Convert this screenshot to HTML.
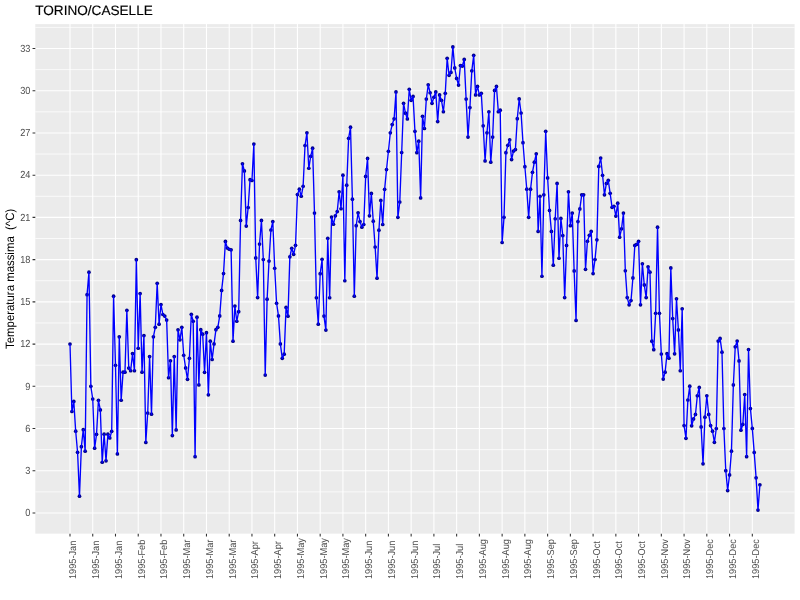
<!DOCTYPE html><html><head><meta charset="utf-8"><style>html,body{margin:0;padding:0;background:#fff}svg{display:block}text{font-family:"Liberation Sans",Arial,sans-serif;text-rendering:geometricPrecision}</style></head><body>
<svg width="800" height="600" viewBox="0 0 800 600">
<rect width="800" height="600" fill="#fff"/>
<rect x="35.3" y="24.1" width="759.3000000000001" height="509.54999999999995" fill="#EBEBEB"/>
<path d="M35.3 491.89H794.6M35.3 449.66H794.6M35.3 407.43H794.6M35.3 365.20H794.6M35.3 322.97H794.6M35.3 280.75H794.6M35.3 238.52H794.6M35.3 196.29H794.6M35.3 154.06H794.6M35.3 111.83H794.6M35.3 69.61H794.6M35.3 27.38H794.6" stroke="#fff" stroke-width="0.75" fill="none"/>
<path d="M35.3 513.00H794.6M35.3 470.77H794.6M35.3 428.54H794.6M35.3 386.32H794.6M35.3 344.09H794.6M35.3 301.86H794.6M35.3 259.63H794.6M35.3 217.40H794.6M35.3 175.18H794.6M35.3 132.95H794.6M35.3 90.72H794.6M35.3 48.49H794.6M70.00 24.1V533.65M92.74 24.1V533.65M115.49 24.1V533.65M138.23 24.1V533.65M160.97 24.1V533.65M183.72 24.1V533.65M206.46 24.1V533.65M229.21 24.1V533.65M251.95 24.1V533.65M274.69 24.1V533.65M297.44 24.1V533.65M320.18 24.1V533.65M342.92 24.1V533.65M365.67 24.1V533.65M388.41 24.1V533.65M411.15 24.1V533.65M433.90 24.1V533.65M456.64 24.1V533.65M479.38 24.1V533.65M502.13 24.1V533.65M524.87 24.1V533.65M547.62 24.1V533.65M570.36 24.1V533.65M593.10 24.1V533.65M615.85 24.1V533.65M638.59 24.1V533.65M661.33 24.1V533.65M684.08 24.1V533.65M706.82 24.1V533.65M729.56 24.1V533.65M752.31 24.1V533.65" stroke="#fff" stroke-width="1.07" fill="none"/>
<g fill="#00008B"><circle cx="70.00" cy="344.02" r="1.85"/><circle cx="71.90" cy="411.51" r="1.85"/><circle cx="73.79" cy="401.39" r="1.85"/><circle cx="75.69" cy="431.19" r="1.85"/><circle cx="77.58" cy="452.28" r="1.85"/><circle cx="79.48" cy="496.15" r="1.85"/><circle cx="81.37" cy="446.66" r="1.85"/><circle cx="83.27" cy="429.65" r="1.85"/><circle cx="85.16" cy="451.16" r="1.85"/><circle cx="87.06" cy="294.67" r="1.85"/><circle cx="88.95" cy="272.17" r="1.85"/><circle cx="90.85" cy="386.34" r="1.85"/><circle cx="92.74" cy="399.00" r="1.85"/><circle cx="94.64" cy="448.21" r="1.85"/><circle cx="96.53" cy="434.29" r="1.85"/><circle cx="98.43" cy="400.26" r="1.85"/><circle cx="100.32" cy="409.96" r="1.85"/><circle cx="102.22" cy="462.27" r="1.85"/><circle cx="104.12" cy="434.15" r="1.85"/><circle cx="106.01" cy="460.86" r="1.85"/><circle cx="107.91" cy="434.15" r="1.85"/><circle cx="109.80" cy="437.94" r="1.85"/><circle cx="111.70" cy="431.33" r="1.85"/><circle cx="113.59" cy="296.22" r="1.85"/><circle cx="115.49" cy="365.25" r="1.85"/><circle cx="117.38" cy="453.97" r="1.85"/><circle cx="119.28" cy="336.85" r="1.85"/><circle cx="121.17" cy="400.26" r="1.85"/><circle cx="123.07" cy="372.14" r="1.85"/><circle cx="124.96" cy="372.14" r="1.85"/><circle cx="126.86" cy="310.28" r="1.85"/><circle cx="128.75" cy="368.06" r="1.85"/><circle cx="130.65" cy="370.73" r="1.85"/><circle cx="132.54" cy="353.58" r="1.85"/><circle cx="134.44" cy="370.73" r="1.85"/><circle cx="136.34" cy="259.66" r="1.85"/><circle cx="138.23" cy="348.24" r="1.85"/><circle cx="140.13" cy="293.55" r="1.85"/><circle cx="142.02" cy="372.14" r="1.85"/><circle cx="143.92" cy="335.58" r="1.85"/><circle cx="145.81" cy="442.44" r="1.85"/><circle cx="147.71" cy="413.06" r="1.85"/><circle cx="149.60" cy="356.53" r="1.85"/><circle cx="151.50" cy="414.18" r="1.85"/><circle cx="153.39" cy="336.85" r="1.85"/><circle cx="155.29" cy="327.29" r="1.85"/><circle cx="157.18" cy="283.28" r="1.85"/><circle cx="159.08" cy="324.20" r="1.85"/><circle cx="160.97" cy="304.51" r="1.85"/><circle cx="162.87" cy="314.49" r="1.85"/><circle cx="164.76" cy="316.04" r="1.85"/><circle cx="166.66" cy="320.12" r="1.85"/><circle cx="168.56" cy="377.76" r="1.85"/><circle cx="170.45" cy="360.75" r="1.85"/><circle cx="172.35" cy="435.55" r="1.85"/><circle cx="174.24" cy="356.53" r="1.85"/><circle cx="176.14" cy="429.93" r="1.85"/><circle cx="178.03" cy="329.82" r="1.85"/><circle cx="179.93" cy="339.80" r="1.85"/><circle cx="181.82" cy="327.29" r="1.85"/><circle cx="183.72" cy="355.27" r="1.85"/><circle cx="185.61" cy="367.92" r="1.85"/><circle cx="187.51" cy="379.31" r="1.85"/><circle cx="189.40" cy="358.36" r="1.85"/><circle cx="191.30" cy="314.35" r="1.85"/><circle cx="193.19" cy="321.24" r="1.85"/><circle cx="195.09" cy="456.64" r="1.85"/><circle cx="196.99" cy="317.17" r="1.85"/><circle cx="198.88" cy="384.94" r="1.85"/><circle cx="200.78" cy="329.68" r="1.85"/><circle cx="202.67" cy="334.18" r="1.85"/><circle cx="204.57" cy="372.28" r="1.85"/><circle cx="206.46" cy="332.63" r="1.85"/><circle cx="208.36" cy="394.78" r="1.85"/><circle cx="210.25" cy="341.21" r="1.85"/><circle cx="212.15" cy="359.49" r="1.85"/><circle cx="214.04" cy="343.88" r="1.85"/><circle cx="215.94" cy="329.68" r="1.85"/><circle cx="217.83" cy="327.29" r="1.85"/><circle cx="219.73" cy="315.90" r="1.85"/><circle cx="221.62" cy="290.45" r="1.85"/><circle cx="223.52" cy="273.58" r="1.85"/><circle cx="225.41" cy="241.38" r="1.85"/><circle cx="227.31" cy="247.99" r="1.85"/><circle cx="229.21" cy="249.26" r="1.85"/><circle cx="231.10" cy="249.82" r="1.85"/><circle cx="233.00" cy="341.21" r="1.85"/><circle cx="234.89" cy="306.06" r="1.85"/><circle cx="236.79" cy="321.24" r="1.85"/><circle cx="238.68" cy="311.68" r="1.85"/><circle cx="240.58" cy="220.43" r="1.85"/><circle cx="242.47" cy="163.77" r="1.85"/><circle cx="244.37" cy="170.94" r="1.85"/><circle cx="246.26" cy="226.06" r="1.85"/><circle cx="248.16" cy="207.50" r="1.85"/><circle cx="250.05" cy="179.66" r="1.85"/><circle cx="251.95" cy="180.50" r="1.85"/><circle cx="253.84" cy="144.09" r="1.85"/><circle cx="255.74" cy="257.97" r="1.85"/><circle cx="257.63" cy="297.62" r="1.85"/><circle cx="259.53" cy="244.05" r="1.85"/><circle cx="261.43" cy="220.43" r="1.85"/><circle cx="263.32" cy="259.52" r="1.85"/><circle cx="265.22" cy="375.09" r="1.85"/><circle cx="267.11" cy="299.17" r="1.85"/><circle cx="269.01" cy="261.07" r="1.85"/><circle cx="270.90" cy="229.99" r="1.85"/><circle cx="272.80" cy="221.56" r="1.85"/><circle cx="274.69" cy="268.24" r="1.85"/><circle cx="276.59" cy="303.25" r="1.85"/><circle cx="278.48" cy="315.90" r="1.85"/><circle cx="280.38" cy="343.88" r="1.85"/><circle cx="282.27" cy="358.36" r="1.85"/><circle cx="284.17" cy="354.14" r="1.85"/><circle cx="286.06" cy="307.46" r="1.85"/><circle cx="287.96" cy="316.18" r="1.85"/><circle cx="289.85" cy="256.85" r="1.85"/><circle cx="291.75" cy="248.27" r="1.85"/><circle cx="293.65" cy="254.32" r="1.85"/><circle cx="295.54" cy="245.32" r="1.85"/><circle cx="297.44" cy="194.56" r="1.85"/><circle cx="299.33" cy="189.22" r="1.85"/><circle cx="301.23" cy="196.25" r="1.85"/><circle cx="303.12" cy="186.27" r="1.85"/><circle cx="305.02" cy="145.49" r="1.85"/><circle cx="306.91" cy="132.84" r="1.85"/><circle cx="308.81" cy="168.27" r="1.85"/><circle cx="310.70" cy="156.32" r="1.85"/><circle cx="312.60" cy="148.16" r="1.85"/><circle cx="314.49" cy="213.12" r="1.85"/><circle cx="316.39" cy="297.76" r="1.85"/><circle cx="318.28" cy="324.20" r="1.85"/><circle cx="320.18" cy="273.72" r="1.85"/><circle cx="322.07" cy="259.24" r="1.85"/><circle cx="323.97" cy="316.04" r="1.85"/><circle cx="325.87" cy="330.10" r="1.85"/><circle cx="327.76" cy="238.29" r="1.85"/><circle cx="329.66" cy="297.76" r="1.85"/><circle cx="331.55" cy="217.06" r="1.85"/><circle cx="333.45" cy="224.23" r="1.85"/><circle cx="335.34" cy="215.79" r="1.85"/><circle cx="337.24" cy="211.58" r="1.85"/><circle cx="339.13" cy="191.75" r="1.85"/><circle cx="341.03" cy="208.76" r="1.85"/><circle cx="342.92" cy="175.16" r="1.85"/><circle cx="344.82" cy="280.75" r="1.85"/><circle cx="346.71" cy="185.14" r="1.85"/><circle cx="348.61" cy="138.32" r="1.85"/><circle cx="350.50" cy="127.22" r="1.85"/><circle cx="352.40" cy="199.20" r="1.85"/><circle cx="354.30" cy="296.22" r="1.85"/><circle cx="356.19" cy="225.64" r="1.85"/><circle cx="358.09" cy="212.84" r="1.85"/><circle cx="359.98" cy="221.56" r="1.85"/><circle cx="361.88" cy="227.18" r="1.85"/><circle cx="363.77" cy="224.51" r="1.85"/><circle cx="365.67" cy="176.43" r="1.85"/><circle cx="367.56" cy="158.43" r="1.85"/><circle cx="369.46" cy="215.79" r="1.85"/><circle cx="371.35" cy="193.44" r="1.85"/><circle cx="373.25" cy="221.14" r="1.85"/><circle cx="375.14" cy="247.01" r="1.85"/><circle cx="377.04" cy="278.22" r="1.85"/><circle cx="378.93" cy="230.13" r="1.85"/><circle cx="380.83" cy="200.47" r="1.85"/><circle cx="382.72" cy="224.51" r="1.85"/><circle cx="384.62" cy="189.36" r="1.85"/><circle cx="386.52" cy="169.54" r="1.85"/><circle cx="388.41" cy="151.26" r="1.85"/><circle cx="390.31" cy="132.84" r="1.85"/><circle cx="392.20" cy="124.54" r="1.85"/><circle cx="394.10" cy="118.78" r="1.85"/><circle cx="395.99" cy="91.92" r="1.85"/><circle cx="397.89" cy="217.34" r="1.85"/><circle cx="399.78" cy="202.01" r="1.85"/><circle cx="401.68" cy="152.52" r="1.85"/><circle cx="403.57" cy="103.31" r="1.85"/><circle cx="405.47" cy="113.16" r="1.85"/><circle cx="407.36" cy="118.92" r="1.85"/><circle cx="409.26" cy="89.25" r="1.85"/><circle cx="411.15" cy="100.36" r="1.85"/><circle cx="413.05" cy="96.42" r="1.85"/><circle cx="414.94" cy="131.29" r="1.85"/><circle cx="416.84" cy="152.66" r="1.85"/><circle cx="418.74" cy="141.13" r="1.85"/><circle cx="420.63" cy="197.94" r="1.85"/><circle cx="422.53" cy="116.25" r="1.85"/><circle cx="424.42" cy="128.48" r="1.85"/><circle cx="426.32" cy="99.10" r="1.85"/><circle cx="428.21" cy="84.75" r="1.85"/><circle cx="430.11" cy="92.77" r="1.85"/><circle cx="432.00" cy="103.31" r="1.85"/><circle cx="433.90" cy="97.27" r="1.85"/><circle cx="435.79" cy="91.92" r="1.85"/><circle cx="437.69" cy="121.59" r="1.85"/><circle cx="439.58" cy="94.88" r="1.85"/><circle cx="441.48" cy="100.36" r="1.85"/><circle cx="443.37" cy="111.75" r="1.85"/><circle cx="445.27" cy="93.33" r="1.85"/><circle cx="447.16" cy="58.32" r="1.85"/><circle cx="449.06" cy="75.33" r="1.85"/><circle cx="450.96" cy="72.38" r="1.85"/><circle cx="452.85" cy="46.93" r="1.85"/><circle cx="454.75" cy="67.88" r="1.85"/><circle cx="456.64" cy="78.43" r="1.85"/><circle cx="458.54" cy="85.04" r="1.85"/><circle cx="460.43" cy="65.49" r="1.85"/><circle cx="462.33" cy="66.05" r="1.85"/><circle cx="464.22" cy="59.45" r="1.85"/><circle cx="466.12" cy="99.10" r="1.85"/><circle cx="468.01" cy="137.06" r="1.85"/><circle cx="469.91" cy="107.53" r="1.85"/><circle cx="471.80" cy="70.83" r="1.85"/><circle cx="473.70" cy="55.37" r="1.85"/><circle cx="475.59" cy="94.88" r="1.85"/><circle cx="477.49" cy="86.44" r="1.85"/><circle cx="479.38" cy="94.88" r="1.85"/><circle cx="481.28" cy="93.33" r="1.85"/><circle cx="483.18" cy="125.81" r="1.85"/><circle cx="485.07" cy="160.96" r="1.85"/><circle cx="486.97" cy="132.84" r="1.85"/><circle cx="488.86" cy="111.75" r="1.85"/><circle cx="490.76" cy="162.22" r="1.85"/><circle cx="492.65" cy="137.06" r="1.85"/><circle cx="494.55" cy="90.38" r="1.85"/><circle cx="496.44" cy="86.44" r="1.85"/><circle cx="498.34" cy="111.75" r="1.85"/><circle cx="500.23" cy="110.20" r="1.85"/><circle cx="502.13" cy="242.51" r="1.85"/><circle cx="504.02" cy="217.34" r="1.85"/><circle cx="505.92" cy="152.66" r="1.85"/><circle cx="507.81" cy="145.35" r="1.85"/><circle cx="509.71" cy="139.73" r="1.85"/><circle cx="511.60" cy="159.55" r="1.85"/><circle cx="513.50" cy="151.12" r="1.85"/><circle cx="515.40" cy="149.57" r="1.85"/><circle cx="517.29" cy="118.64" r="1.85"/><circle cx="519.19" cy="98.95" r="1.85"/><circle cx="521.08" cy="113.01" r="1.85"/><circle cx="522.98" cy="142.68" r="1.85"/><circle cx="524.87" cy="166.72" r="1.85"/><circle cx="526.77" cy="189.22" r="1.85"/><circle cx="528.66" cy="217.34" r="1.85"/><circle cx="530.56" cy="189.22" r="1.85"/><circle cx="532.45" cy="172.35" r="1.85"/><circle cx="534.35" cy="162.22" r="1.85"/><circle cx="536.24" cy="153.79" r="1.85"/><circle cx="538.14" cy="231.40" r="1.85"/><circle cx="540.03" cy="196.25" r="1.85"/><circle cx="541.93" cy="276.25" r="1.85"/><circle cx="543.83" cy="194.84" r="1.85"/><circle cx="545.72" cy="131.29" r="1.85"/><circle cx="547.62" cy="177.97" r="1.85"/><circle cx="549.51" cy="210.45" r="1.85"/><circle cx="551.41" cy="231.40" r="1.85"/><circle cx="553.30" cy="265.14" r="1.85"/><circle cx="555.20" cy="218.75" r="1.85"/><circle cx="557.09" cy="183.46" r="1.85"/><circle cx="558.99" cy="258.25" r="1.85"/><circle cx="560.88" cy="218.46" r="1.85"/><circle cx="562.78" cy="235.62" r="1.85"/><circle cx="564.67" cy="297.62" r="1.85"/><circle cx="566.57" cy="245.46" r="1.85"/><circle cx="568.46" cy="191.75" r="1.85"/><circle cx="570.36" cy="225.64" r="1.85"/><circle cx="572.25" cy="213.12" r="1.85"/><circle cx="574.15" cy="270.91" r="1.85"/><circle cx="576.05" cy="320.40" r="1.85"/><circle cx="577.94" cy="221.56" r="1.85"/><circle cx="579.84" cy="208.90" r="1.85"/><circle cx="581.73" cy="194.84" r="1.85"/><circle cx="583.63" cy="194.84" r="1.85"/><circle cx="585.52" cy="269.36" r="1.85"/><circle cx="587.42" cy="241.24" r="1.85"/><circle cx="589.31" cy="235.34" r="1.85"/><circle cx="591.21" cy="231.40" r="1.85"/><circle cx="593.10" cy="273.58" r="1.85"/><circle cx="595.00" cy="259.52" r="1.85"/><circle cx="596.89" cy="239.84" r="1.85"/><circle cx="598.79" cy="166.44" r="1.85"/><circle cx="600.68" cy="158.01" r="1.85"/><circle cx="602.58" cy="175.30" r="1.85"/><circle cx="604.47" cy="194.84" r="1.85"/><circle cx="606.37" cy="183.46" r="1.85"/><circle cx="608.27" cy="180.36" r="1.85"/><circle cx="610.16" cy="193.30" r="1.85"/><circle cx="612.06" cy="207.36" r="1.85"/><circle cx="613.95" cy="206.23" r="1.85"/><circle cx="615.85" cy="216.07" r="1.85"/><circle cx="617.74" cy="203.14" r="1.85"/><circle cx="619.64" cy="237.16" r="1.85"/><circle cx="621.53" cy="228.73" r="1.85"/><circle cx="623.43" cy="213.12" r="1.85"/><circle cx="625.32" cy="270.77" r="1.85"/><circle cx="627.22" cy="297.62" r="1.85"/><circle cx="629.11" cy="304.79" r="1.85"/><circle cx="631.01" cy="300.58" r="1.85"/><circle cx="632.90" cy="277.94" r="1.85"/><circle cx="634.80" cy="245.46" r="1.85"/><circle cx="636.69" cy="244.34" r="1.85"/><circle cx="638.59" cy="241.24" r="1.85"/><circle cx="640.49" cy="304.79" r="1.85"/><circle cx="642.38" cy="263.74" r="1.85"/><circle cx="644.28" cy="284.97" r="1.85"/><circle cx="646.17" cy="297.62" r="1.85"/><circle cx="648.07" cy="266.83" r="1.85"/><circle cx="649.96" cy="272.17" r="1.85"/><circle cx="651.86" cy="341.21" r="1.85"/><circle cx="653.75" cy="349.64" r="1.85"/><circle cx="655.65" cy="313.23" r="1.85"/><circle cx="657.54" cy="227.18" r="1.85"/><circle cx="659.44" cy="313.23" r="1.85"/><circle cx="661.33" cy="354.00" r="1.85"/><circle cx="663.23" cy="379.03" r="1.85"/><circle cx="665.12" cy="372.14" r="1.85"/><circle cx="667.02" cy="353.72" r="1.85"/><circle cx="668.91" cy="358.22" r="1.85"/><circle cx="670.81" cy="267.96" r="1.85"/><circle cx="672.71" cy="318.57" r="1.85"/><circle cx="674.60" cy="353.86" r="1.85"/><circle cx="676.50" cy="298.75" r="1.85"/><circle cx="678.39" cy="329.96" r="1.85"/><circle cx="680.29" cy="370.73" r="1.85"/><circle cx="682.18" cy="308.73" r="1.85"/><circle cx="684.08" cy="425.57" r="1.85"/><circle cx="685.97" cy="438.36" r="1.85"/><circle cx="687.87" cy="399.98" r="1.85"/><circle cx="689.76" cy="386.20" r="1.85"/><circle cx="691.66" cy="425.85" r="1.85"/><circle cx="693.55" cy="418.96" r="1.85"/><circle cx="695.45" cy="414.46" r="1.85"/><circle cx="697.34" cy="395.76" r="1.85"/><circle cx="699.24" cy="387.47" r="1.85"/><circle cx="701.13" cy="426.97" r="1.85"/><circle cx="703.03" cy="463.81" r="1.85"/><circle cx="704.93" cy="417.13" r="1.85"/><circle cx="706.82" cy="395.76" r="1.85"/><circle cx="708.72" cy="414.46" r="1.85"/><circle cx="710.61" cy="425.57" r="1.85"/><circle cx="712.51" cy="431.19" r="1.85"/><circle cx="714.40" cy="442.30" r="1.85"/><circle cx="716.30" cy="428.52" r="1.85"/><circle cx="718.19" cy="341.07" r="1.85"/><circle cx="720.09" cy="338.40" r="1.85"/><circle cx="721.98" cy="352.18" r="1.85"/><circle cx="723.88" cy="428.52" r="1.85"/><circle cx="725.77" cy="470.70" r="1.85"/><circle cx="727.67" cy="490.53" r="1.85"/><circle cx="729.56" cy="474.92" r="1.85"/><circle cx="731.46" cy="451.16" r="1.85"/><circle cx="733.36" cy="384.94" r="1.85"/><circle cx="735.25" cy="346.83" r="1.85"/><circle cx="737.15" cy="341.07" r="1.85"/><circle cx="739.04" cy="360.89" r="1.85"/><circle cx="740.94" cy="430.21" r="1.85"/><circle cx="742.83" cy="424.44" r="1.85"/><circle cx="744.73" cy="394.50" r="1.85"/><circle cx="746.62" cy="456.64" r="1.85"/><circle cx="748.52" cy="349.50" r="1.85"/><circle cx="750.41" cy="408.56" r="1.85"/><circle cx="752.31" cy="428.38" r="1.85"/><circle cx="754.20" cy="452.42" r="1.85"/><circle cx="756.10" cy="477.87" r="1.85"/><circle cx="757.99" cy="510.07" r="1.85"/><circle cx="759.89" cy="484.76" r="1.85"/></g>
<polyline points="70.00,344.02 71.90,411.51 73.79,401.39 75.69,431.19 77.58,452.28 79.48,496.15 81.37,446.66 83.27,429.65 85.16,451.16 87.06,294.67 88.95,272.17 90.85,386.34 92.74,399.00 94.64,448.21 96.53,434.29 98.43,400.26 100.32,409.96 102.22,462.27 104.12,434.15 106.01,460.86 107.91,434.15 109.80,437.94 111.70,431.33 113.59,296.22 115.49,365.25 117.38,453.97 119.28,336.85 121.17,400.26 123.07,372.14 124.96,372.14 126.86,310.28 128.75,368.06 130.65,370.73 132.54,353.58 134.44,370.73 136.34,259.66 138.23,348.24 140.13,293.55 142.02,372.14 143.92,335.58 145.81,442.44 147.71,413.06 149.60,356.53 151.50,414.18 153.39,336.85 155.29,327.29 157.18,283.28 159.08,324.20 160.97,304.51 162.87,314.49 164.76,316.04 166.66,320.12 168.56,377.76 170.45,360.75 172.35,435.55 174.24,356.53 176.14,429.93 178.03,329.82 179.93,339.80 181.82,327.29 183.72,355.27 185.61,367.92 187.51,379.31 189.40,358.36 191.30,314.35 193.19,321.24 195.09,456.64 196.99,317.17 198.88,384.94 200.78,329.68 202.67,334.18 204.57,372.28 206.46,332.63 208.36,394.78 210.25,341.21 212.15,359.49 214.04,343.88 215.94,329.68 217.83,327.29 219.73,315.90 221.62,290.45 223.52,273.58 225.41,241.38 227.31,247.99 229.21,249.26 231.10,249.82 233.00,341.21 234.89,306.06 236.79,321.24 238.68,311.68 240.58,220.43 242.47,163.77 244.37,170.94 246.26,226.06 248.16,207.50 250.05,179.66 251.95,180.50 253.84,144.09 255.74,257.97 257.63,297.62 259.53,244.05 261.43,220.43 263.32,259.52 265.22,375.09 267.11,299.17 269.01,261.07 270.90,229.99 272.80,221.56 274.69,268.24 276.59,303.25 278.48,315.90 280.38,343.88 282.27,358.36 284.17,354.14 286.06,307.46 287.96,316.18 289.85,256.85 291.75,248.27 293.65,254.32 295.54,245.32 297.44,194.56 299.33,189.22 301.23,196.25 303.12,186.27 305.02,145.49 306.91,132.84 308.81,168.27 310.70,156.32 312.60,148.16 314.49,213.12 316.39,297.76 318.28,324.20 320.18,273.72 322.07,259.24 323.97,316.04 325.87,330.10 327.76,238.29 329.66,297.76 331.55,217.06 333.45,224.23 335.34,215.79 337.24,211.58 339.13,191.75 341.03,208.76 342.92,175.16 344.82,280.75 346.71,185.14 348.61,138.32 350.50,127.22 352.40,199.20 354.30,296.22 356.19,225.64 358.09,212.84 359.98,221.56 361.88,227.18 363.77,224.51 365.67,176.43 367.56,158.43 369.46,215.79 371.35,193.44 373.25,221.14 375.14,247.01 377.04,278.22 378.93,230.13 380.83,200.47 382.72,224.51 384.62,189.36 386.52,169.54 388.41,151.26 390.31,132.84 392.20,124.54 394.10,118.78 395.99,91.92 397.89,217.34 399.78,202.01 401.68,152.52 403.57,103.31 405.47,113.16 407.36,118.92 409.26,89.25 411.15,100.36 413.05,96.42 414.94,131.29 416.84,152.66 418.74,141.13 420.63,197.94 422.53,116.25 424.42,128.48 426.32,99.10 428.21,84.75 430.11,92.77 432.00,103.31 433.90,97.27 435.79,91.92 437.69,121.59 439.58,94.88 441.48,100.36 443.37,111.75 445.27,93.33 447.16,58.32 449.06,75.33 450.96,72.38 452.85,46.93 454.75,67.88 456.64,78.43 458.54,85.04 460.43,65.49 462.33,66.05 464.22,59.45 466.12,99.10 468.01,137.06 469.91,107.53 471.80,70.83 473.70,55.37 475.59,94.88 477.49,86.44 479.38,94.88 481.28,93.33 483.18,125.81 485.07,160.96 486.97,132.84 488.86,111.75 490.76,162.22 492.65,137.06 494.55,90.38 496.44,86.44 498.34,111.75 500.23,110.20 502.13,242.51 504.02,217.34 505.92,152.66 507.81,145.35 509.71,139.73 511.60,159.55 513.50,151.12 515.40,149.57 517.29,118.64 519.19,98.95 521.08,113.01 522.98,142.68 524.87,166.72 526.77,189.22 528.66,217.34 530.56,189.22 532.45,172.35 534.35,162.22 536.24,153.79 538.14,231.40 540.03,196.25 541.93,276.25 543.83,194.84 545.72,131.29 547.62,177.97 549.51,210.45 551.41,231.40 553.30,265.14 555.20,218.75 557.09,183.46 558.99,258.25 560.88,218.46 562.78,235.62 564.67,297.62 566.57,245.46 568.46,191.75 570.36,225.64 572.25,213.12 574.15,270.91 576.05,320.40 577.94,221.56 579.84,208.90 581.73,194.84 583.63,194.84 585.52,269.36 587.42,241.24 589.31,235.34 591.21,231.40 593.10,273.58 595.00,259.52 596.89,239.84 598.79,166.44 600.68,158.01 602.58,175.30 604.47,194.84 606.37,183.46 608.27,180.36 610.16,193.30 612.06,207.36 613.95,206.23 615.85,216.07 617.74,203.14 619.64,237.16 621.53,228.73 623.43,213.12 625.32,270.77 627.22,297.62 629.11,304.79 631.01,300.58 632.90,277.94 634.80,245.46 636.69,244.34 638.59,241.24 640.49,304.79 642.38,263.74 644.28,284.97 646.17,297.62 648.07,266.83 649.96,272.17 651.86,341.21 653.75,349.64 655.65,313.23 657.54,227.18 659.44,313.23 661.33,354.00 663.23,379.03 665.12,372.14 667.02,353.72 668.91,358.22 670.81,267.96 672.71,318.57 674.60,353.86 676.50,298.75 678.39,329.96 680.29,370.73 682.18,308.73 684.08,425.57 685.97,438.36 687.87,399.98 689.76,386.20 691.66,425.85 693.55,418.96 695.45,414.46 697.34,395.76 699.24,387.47 701.13,426.97 703.03,463.81 704.93,417.13 706.82,395.76 708.72,414.46 710.61,425.57 712.51,431.19 714.40,442.30 716.30,428.52 718.19,341.07 720.09,338.40 721.98,352.18 723.88,428.52 725.77,470.70 727.67,490.53 729.56,474.92 731.46,451.16 733.36,384.94 735.25,346.83 737.15,341.07 739.04,360.89 740.94,430.21 742.83,424.44 744.73,394.50 746.62,456.64 748.52,349.50 750.41,408.56 752.31,428.38 754.20,452.42 756.10,477.87 757.99,510.07 759.89,484.76" fill="none" stroke="#0000FF" stroke-width="1.35" stroke-linejoin="round" stroke-linecap="butt"/>
<path d="M32.55 513.00H35.3M32.55 470.77H35.3M32.55 428.54H35.3M32.55 386.32H35.3M32.55 344.09H35.3M32.55 301.86H35.3M32.55 259.63H35.3M32.55 217.40H35.3M32.55 175.18H35.3M32.55 132.95H35.3M32.55 90.72H35.3M32.55 48.49H35.3M70.00 533.65V536.4M92.74 533.65V536.4M115.49 533.65V536.4M138.23 533.65V536.4M160.97 533.65V536.4M183.72 533.65V536.4M206.46 533.65V536.4M229.21 533.65V536.4M251.95 533.65V536.4M274.69 533.65V536.4M297.44 533.65V536.4M320.18 533.65V536.4M342.92 533.65V536.4M365.67 533.65V536.4M388.41 533.65V536.4M411.15 533.65V536.4M433.90 533.65V536.4M456.64 533.65V536.4M479.38 533.65V536.4M502.13 533.65V536.4M524.87 533.65V536.4M547.62 533.65V536.4M570.36 533.65V536.4M593.10 533.65V536.4M615.85 533.65V536.4M638.59 533.65V536.4M661.33 533.65V536.4M684.08 533.65V536.4M706.82 533.65V536.4M729.56 533.65V536.4M752.31 533.65V536.4" stroke="#333333" stroke-width="1.07" fill="none"/>
<g fill="#4D4D4D">
<text transform="translate(30.4,516.30) scale(1,1.12)" text-anchor="end" font-size="9.2">0</text>
<text transform="translate(30.4,474.07) scale(1,1.12)" text-anchor="end" font-size="9.2">3</text>
<text transform="translate(30.4,431.84) scale(1,1.12)" text-anchor="end" font-size="9.2">6</text>
<text transform="translate(30.4,389.62) scale(1,1.12)" text-anchor="end" font-size="9.2">9</text>
<text transform="translate(30.4,347.39) scale(1,1.12)" text-anchor="end" font-size="9.2">12</text>
<text transform="translate(30.4,305.16) scale(1,1.12)" text-anchor="end" font-size="9.2">15</text>
<text transform="translate(30.4,262.93) scale(1,1.12)" text-anchor="end" font-size="9.2">18</text>
<text transform="translate(30.4,220.70) scale(1,1.12)" text-anchor="end" font-size="9.2">21</text>
<text transform="translate(30.4,178.48) scale(1,1.12)" text-anchor="end" font-size="9.2">24</text>
<text transform="translate(30.4,136.25) scale(1,1.12)" text-anchor="end" font-size="9.2">27</text>
<text transform="translate(30.4,94.02) scale(1,1.12)" text-anchor="end" font-size="9.2">30</text>
<text transform="translate(30.4,51.79) scale(1,1.12)" text-anchor="end" font-size="9.2">33</text>
<text transform="translate(76.40,579.0) rotate(-90) scale(1,1.08)" font-size="9.2">1995-Jan</text>
<text transform="translate(99.14,579.0) rotate(-90) scale(1,1.08)" font-size="9.2">1995-Jan</text>
<text transform="translate(121.89,579.0) rotate(-90) scale(1,1.08)" font-size="9.2">1995-Jan</text>
<text transform="translate(144.63,579.0) rotate(-90) scale(1,1.08)" font-size="9.2">1995-Feb</text>
<text transform="translate(167.37,579.0) rotate(-90) scale(1,1.08)" font-size="9.2">1995-Feb</text>
<text transform="translate(190.12,579.0) rotate(-90) scale(1,1.08)" font-size="9.2">1995-Mar</text>
<text transform="translate(212.86,579.0) rotate(-90) scale(1,1.08)" font-size="9.2">1995-Mar</text>
<text transform="translate(235.61,579.0) rotate(-90) scale(1,1.08)" font-size="9.2">1995-Mar</text>
<text transform="translate(258.35,579.0) rotate(-90) scale(1,1.08)" font-size="9.2">1995-Apr</text>
<text transform="translate(281.09,579.0) rotate(-90) scale(1,1.08)" font-size="9.2">1995-Apr</text>
<text transform="translate(303.84,579.0) rotate(-90) scale(1,1.08)" font-size="9.2">1995-May</text>
<text transform="translate(326.58,579.0) rotate(-90) scale(1,1.08)" font-size="9.2">1995-May</text>
<text transform="translate(349.32,579.0) rotate(-90) scale(1,1.08)" font-size="9.2">1995-May</text>
<text transform="translate(372.07,579.0) rotate(-90) scale(1,1.08)" font-size="9.2">1995-Jun</text>
<text transform="translate(394.81,579.0) rotate(-90) scale(1,1.08)" font-size="9.2">1995-Jun</text>
<text transform="translate(417.55,579.0) rotate(-90) scale(1,1.08)" font-size="9.2">1995-Jun</text>
<text transform="translate(440.30,579.0) rotate(-90) scale(1,1.08)" font-size="9.2">1995-Jul</text>
<text transform="translate(463.04,579.0) rotate(-90) scale(1,1.08)" font-size="9.2">1995-Jul</text>
<text transform="translate(485.78,579.0) rotate(-90) scale(1,1.08)" font-size="9.2">1995-Aug</text>
<text transform="translate(508.53,579.0) rotate(-90) scale(1,1.08)" font-size="9.2">1995-Aug</text>
<text transform="translate(531.27,579.0) rotate(-90) scale(1,1.08)" font-size="9.2">1995-Aug</text>
<text transform="translate(554.02,579.0) rotate(-90) scale(1,1.08)" font-size="9.2">1995-Sep</text>
<text transform="translate(576.76,579.0) rotate(-90) scale(1,1.08)" font-size="9.2">1995-Sep</text>
<text transform="translate(599.50,579.0) rotate(-90) scale(1,1.08)" font-size="9.2">1995-Oct</text>
<text transform="translate(622.25,579.0) rotate(-90) scale(1,1.08)" font-size="9.2">1995-Oct</text>
<text transform="translate(644.99,579.0) rotate(-90) scale(1,1.08)" font-size="9.2">1995-Oct</text>
<text transform="translate(667.73,579.0) rotate(-90) scale(1,1.08)" font-size="9.2">1995-Nov</text>
<text transform="translate(690.48,579.0) rotate(-90) scale(1,1.08)" font-size="9.2">1995-Nov</text>
<text transform="translate(713.22,579.0) rotate(-90) scale(1,1.08)" font-size="9.2">1995-Dec</text>
<text transform="translate(735.96,579.0) rotate(-90) scale(1,1.08)" font-size="9.2">1995-Dec</text>
<text transform="translate(758.71,579.0) rotate(-90) scale(1,1.08)" font-size="9.2">1995-Dec</text>
</g>
<text transform="translate(35.2,14.7)" font-size="13.6" fill="#000" stroke="#000" stroke-width="0.15">TORINO/CASELLE</text>
<text transform="translate(14.15,278.88) rotate(-90) scale(1,1.06)" text-anchor="middle" font-size="11.4" fill="#000" xml:space="preserve" style="white-space:pre">Temperatura massima  (^C)</text>
</svg></body></html>
